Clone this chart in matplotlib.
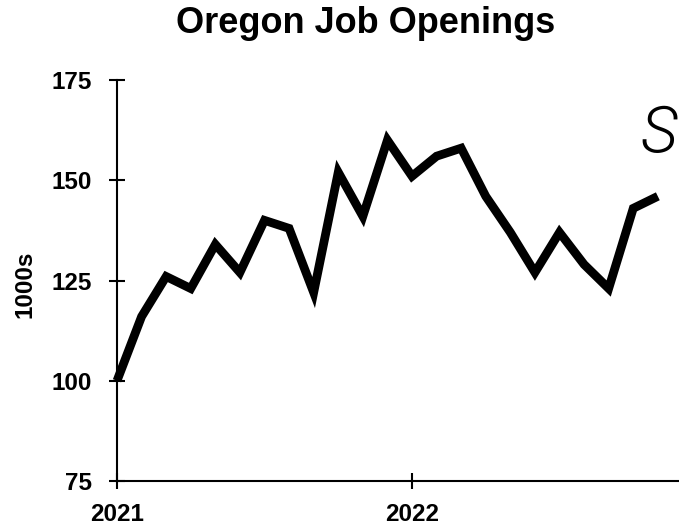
import matplotlib
matplotlib.use('Agg')
import matplotlib.pyplot as plt

# 月份序号 (0 = 2021年1月)
months = list(range(23))
openings = [100, 116, 126, 123, 134, 127, 140, 138, 122, 152, 141, 160,
            151, 156, 158, 146, 137, 127, 137, 129, 123, 143, 146]
year_ticks = [0, 12]
year_labels = ['2021', '2022']
y_ticks = [75, 100, 125, 150, 175]

plt.rcParams['font.family'] = ['Liberation Sans', 'DejaVu Sans']
plt.rcParams['font.weight'] = 'bold'

fig = plt.figure(figsize=(6.79, 5.27), dpi=100)
ax = fig.add_axes([117 / 679, 46 / 527, 590 / 679, 401 / 527])

ax.plot(months, openings, color='black', linewidth=6.3,
        solid_joinstyle='miter', solid_capstyle='butt', clip_on=False)

ax.set_xlim(0, 24)
ax.set_ylim(75, 175)
ax.set_xticks(year_ticks)
ax.set_xticklabels(year_labels)
ax.set_yticks(y_ticks)

for side in ['top', 'right']:
    ax.spines[side].set_visible(False)
for side in ['left', 'bottom']:
    ax.spines[side].set_linewidth(1.5)

ax.tick_params(direction='inout', length=11.5, width=1.5, labelsize=17.5)
ax.tick_params(axis='y', pad=12)
ax.tick_params(axis='x', pad=10)
ax.set_ylabel('1000s', fontsize=17.5, fontweight='bold')
ax.yaxis.set_label_coords(-0.137, 0.491)

fig.text(0.539, 1 - 33 / 527, 'Oregon Job Openings', fontsize=26,
         fontweight='bold', ha='center', va='baseline')

# 右上角手写的记号
fig.text(659 / 679, 1 - 135 / 527, 'S', fontsize=46, fontweight=300,
         fontstyle='italic', family=['Roboto', 'DejaVu Sans'],
         ha='center', va='center')

fig.savefig('out.png', dpi=100)
